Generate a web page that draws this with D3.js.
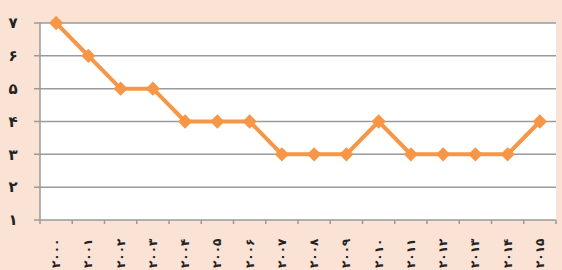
<!DOCTYPE html>
<html lang="fa">
  <head>
    <meta charset="UTF-8" />
    <title>Chart</title>
    <style>
      body { margin: 0; background: #fae2d5; }
      text { font-family: "DejaVu Sans", sans-serif; fill: #222; }
    </style>
  </head>
  <body>
    <svg id="chart"></svg>
    <script src="https://cdnjs.cloudflare.com/ajax/libs/d3/7.4.4/d3.min.js"></script>
    <script>
      const years = ["۲۰۰۰", "۲۰۰۱", "۲۰۰۲", "۲۰۰۳", "۲۰۰۴", "۲۰۰۵", "۲۰۰۶", "۲۰۰۷",
                     "۲۰۰۸", "۲۰۰۹", "۲۰۱۰", "۲۰۱۱", "۲۰۱۲", "۲۰۱۳", "۲۰۱۴", "۲۰۱۵"];
      const values = [7, 6, 5, 5, 4, 4, 4, 3, 3, 3, 4, 3, 3, 3, 3, 4];
      const yTicks = [1, 2, 3, 4, 5, 6, 7];
      const yTickLabels = ["۱", "۲", "۳", "۴", "۵", "۶", "۷"];

      const W = 562, H = 270;
      const m = { left: 40, right: 6, top: 23, bottom: 50 };

      const svg = d3.select("#chart").attr("width", W).attr("height", H);
      svg.append("rect").attr("width", W).attr("height", H).attr("fill", "#fae2d5");

      const x = d3.scaleBand().domain(years).range([m.left, W - m.right]);
      const y = d3.scaleLinear().domain([1, 7]).range([H - m.bottom, m.top]);

      // plot area
      svg.append("rect")
        .attr("x", m.left).attr("y", m.top)
        .attr("width", W - m.right - m.left).attr("height", H - m.bottom - m.top)
        .attr("fill", "#ffffff");

      // gridlines
      svg.append("g")
        .selectAll("line")
        .data(yTicks)
        .join("line")
        .attr("x1", m.left - 6).attr("x2", W - m.right)
        .attr("y1", (d) => y(d)).attr("y2", (d) => y(d))
        .attr("stroke", "#9a9a9a").attr("stroke-width", 1.5);

      // y axis line
      svg.append("line")
        .attr("x1", m.left).attr("x2", m.left)
        .attr("y1", m.top).attr("y2", H - m.bottom)
        .attr("stroke", "#9a9a9a").attr("stroke-width", 1.5);

      // x ticks between categories
      const bounds = years.map((d) => x(d)).concat([W - m.right]);
      svg.append("g")
        .selectAll("line")
        .data(bounds)
        .join("line")
        .attr("x1", (d) => d).attr("x2", (d) => d)
        .attr("y1", H - m.bottom).attr("y2", H - m.bottom + 4)
        .attr("stroke", "#9a9a9a").attr("stroke-width", 1.5);

      // y labels
      svg.append("g")
        .selectAll("text")
        .data(yTicks)
        .join("text")
        .attr("x", 13)
        .attr("y", (d) => y(d))
        .attr("dy", "0.35em")
        .attr("text-anchor", "middle")
        .attr("font-size", 15)
        .attr("font-weight", "bold")
        .text((d, i) => yTickLabels[i]);

      // x labels, rotated
      svg.append("g")
        .selectAll("text")
        .data(years)
        .join("text")
        .attr("transform", (d) => `translate(${x(d) + x.bandwidth() / 2 + 4},${H - 2}) rotate(-90)`)
        .attr("font-size", 12)
        .attr("font-weight", "bold")
        .attr("letter-spacing", 3)
        .text((d) => d);

      // line
      const pts = years.map((d, i) => [x(d) + x.bandwidth() / 2, y(values[i])]);
      svg.append("path")
        .attr("d", d3.line()(pts))
        .attr("fill", "none")
        .attr("stroke", "#f79646")
        .attr("stroke-width", 4)
        .attr("stroke-linejoin", "round");

      svg.append("g")
        .selectAll("path")
        .data(pts)
        .join("path")
        .attr("transform", (d) => `translate(${d[0]},${d[1]})`)
        .attr("d", d3.symbol(d3.symbolDiamond2, 130)())
        .attr("fill", "#f79646");
    </script>
  </body>
</html>
